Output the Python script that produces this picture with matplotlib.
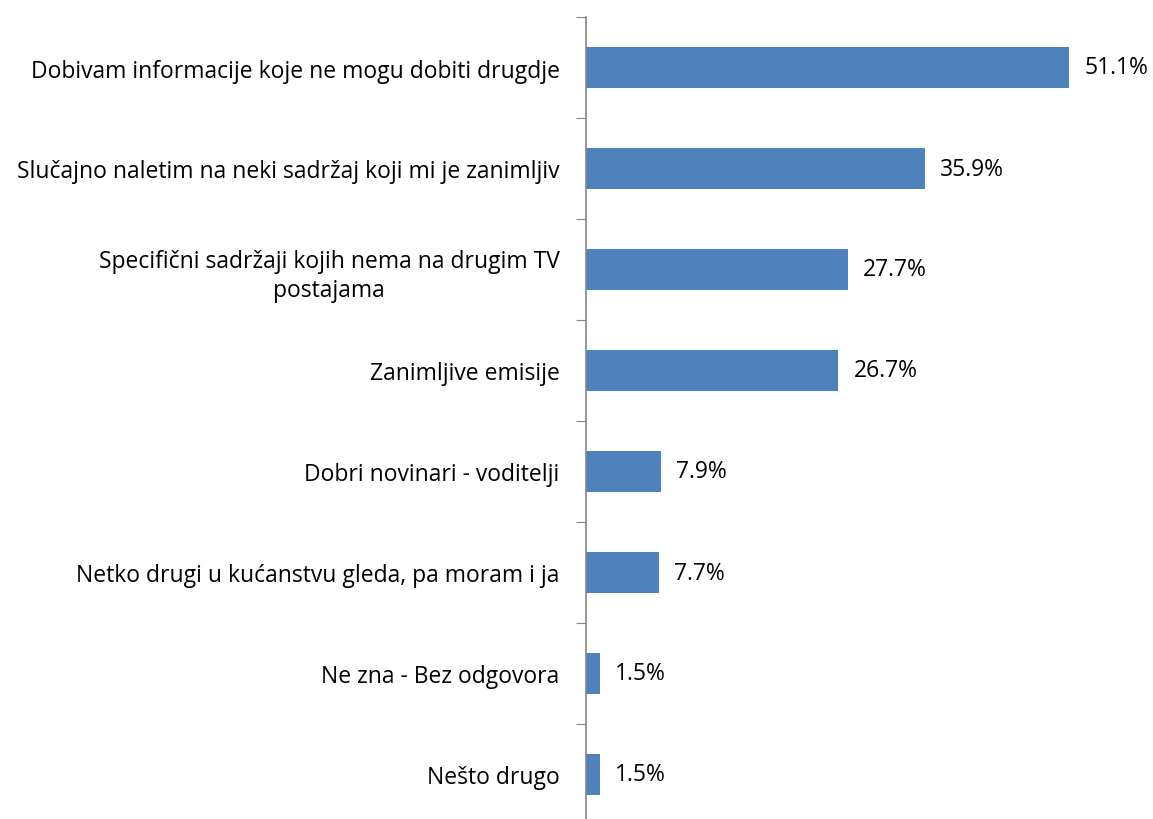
import matplotlib
matplotlib.use('Agg')
import matplotlib.pyplot as plt

# Categories, top to bottom
labels = [
    'Dobivam informacije koje ne mogu dobiti drugdje',
    'Slučajno naletim na neki sadržaj koji mi je zanimljiv',
    'Specifični sadržaji kojih nema na drugim TV\npostajama',
    'Zanimljive emisije',
    'Dobri novinari - voditelji',
    'Netko drugi u kućanstvu gleda, pa moram i ja',
    'Ne zna - Bez odgovora',
    'Nešto drugo',
]
values = [51.1, 35.9, 27.7, 26.7, 7.9, 7.7, 1.5, 1.5]

plt.rcParams['font.family'] = ['Open Sans', 'DejaVu Sans']

fig = plt.figure(figsize=(11.53, 8.2), dpi=100)
ax = fig.add_axes([586 / 1153, -6 / 820, 1 - 586 / 1153, 808 / 820])

pos = list(range(len(values)))
ax.barh(pos, values, height=0.4, color='#4f81bd')
ax.set_ylim(len(values) - 0.5, -0.5)
ax.set_xlim(0, 60)

for p, v in zip(pos, values):
    ax.text(v + 1.6, p, f'{v:.1f}%', va='center', ha='left', fontsize=16.5)

ax.set_yticks([p + 0.5 for p in [-1] + pos])
ax.set_yticklabels([])
ax.set_yticks(pos, minor=True)
ax.set_yticklabels(labels, minor=True, fontsize=16.5, ha='right',
                   multialignment='center', linespacing=1.3)
ax.tick_params(axis='y', which='major', length=7, color='#868686', direction='out')
ax.tick_params(axis='y', which='minor', length=0, pad=19)
ax.set_xticks([])

for s in ['top', 'right', 'bottom']:
    ax.spines[s].set_visible(False)
ax.spines['left'].set_color('#868686')
ax.spines['left'].set_linewidth(1.2)

fig.savefig('out.png', dpi=100)
